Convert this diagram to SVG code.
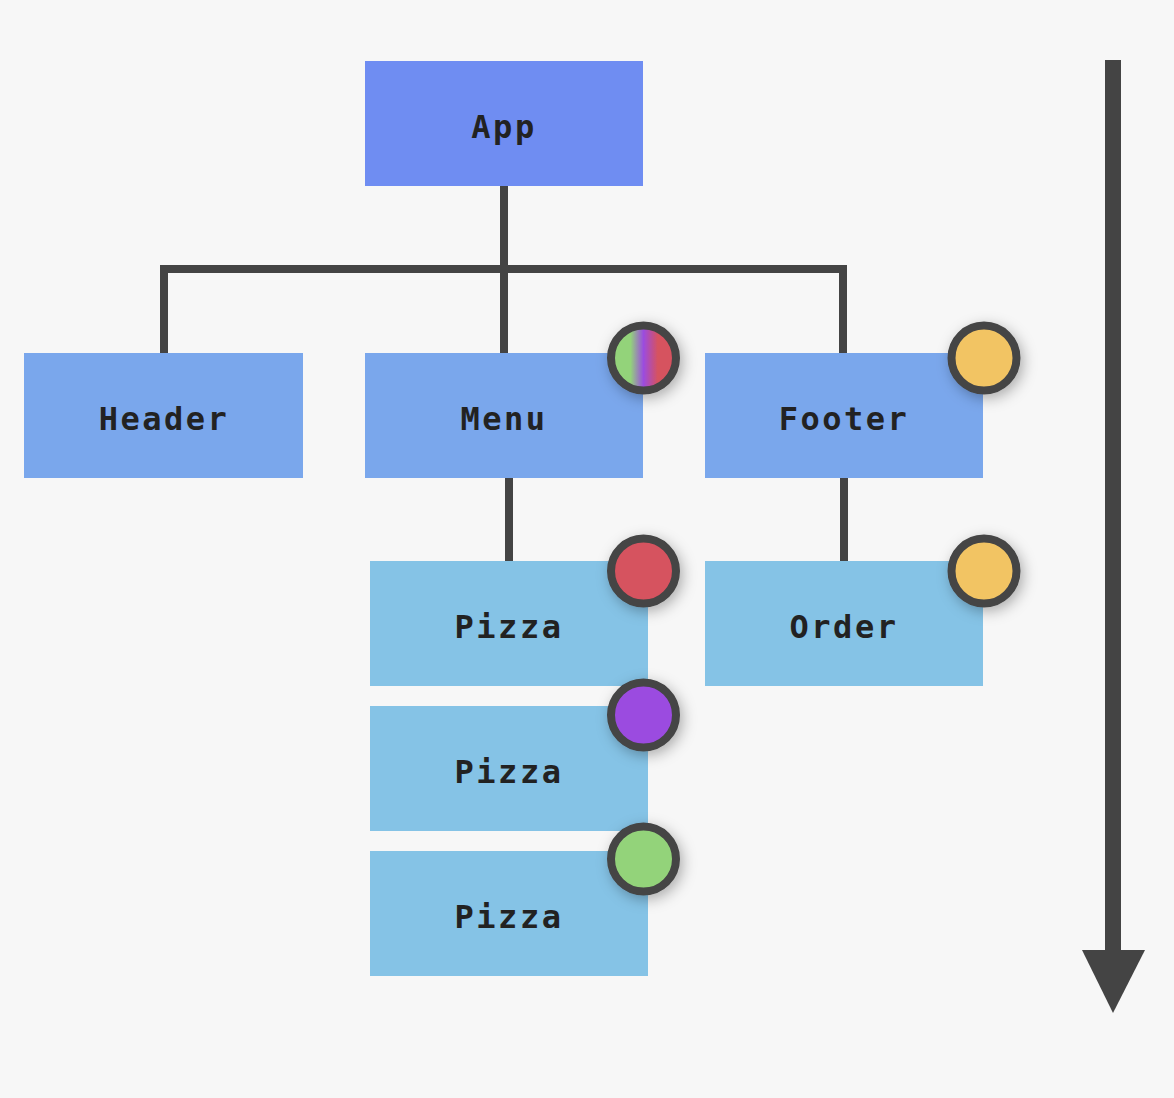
<svg xmlns="http://www.w3.org/2000/svg" width="1174" height="1098" viewBox="0 0 1174 1098">
<style>
.box text{font-family:"DejaVu Sans Mono","Liberation Mono",monospace;font-weight:bold;font-size:32px;fill:#222;text-anchor:middle;letter-spacing:2.5px}
.l1{fill:#6f8df2}
.l2{fill:#7aa7ec}
.l3{fill:#85c3e6}
.conn{stroke:#444;stroke-width:8;fill:none}
.dot{stroke:#444;stroke-width:8;filter:url(#sh)}
</style>
<defs>
<filter id="sh" x="-60%" y="-60%" width="220%" height="220%">
<feDropShadow dx="3" dy="4" stdDeviation="7" flood-color="#000" flood-opacity="0.3"/>
</filter>
<linearGradient id="mix" x1="0" y1="0" x2="1" y2="0">
<stop offset="0.3" stop-color="#93d37a"/>
<stop offset="0.5" stop-color="#9b4ce0"/>
<stop offset="0.72" stop-color="#d6525f"/>
</linearGradient>
</defs>
<rect width="1174" height="1098" fill="#f7f7f7"/>
<g id="connectors">
<path class="conn" d="M504 186V269M160 269H847M164 269V353M504 269V353M843 269V353"/>
<path class="conn" d="M509 478V561M844 478V561"/>
</g>
<g id="app" class="box"><rect class="l1" x="365" y="61" width="278" height="125"/><text x="504" y="138">App</text></g>
<g id="header" class="box"><rect class="l2" x="24" y="353" width="279" height="125"/><text x="164" y="430">Header</text></g>
<g id="menu" class="box"><rect class="l2" x="365" y="353" width="278" height="125"/><text x="504" y="430">Menu</text></g>
<g id="footer" class="box"><rect class="l2" x="705" y="353" width="278" height="125"/><text x="844" y="430">Footer</text></g>
<g id="pizza1" class="box"><rect class="l3" x="370" y="561" width="278" height="125"/><text x="509" y="638">Pizza</text></g>
<g id="order" class="box"><rect class="l3" x="705" y="561" width="278" height="125"/><text x="844" y="638">Order</text></g>
<g id="pizza2" class="box"><rect class="l3" x="370" y="706" width="278" height="125"/><text x="509" y="783">Pizza</text></g>
<g id="pizza3" class="box"><rect class="l3" x="370" y="851" width="278" height="125"/><text x="509" y="928">Pizza</text></g>
<g id="dots">
<circle class="dot" cx="643.5" cy="358" r="32.5" fill="url(#mix)"/>
<circle class="dot" cx="984" cy="358" r="32.5" fill="#f2c464"/>
<circle class="dot" cx="643.5" cy="571" r="32.5" fill="#d6525f"/>
<circle class="dot" cx="984" cy="571" r="32.5" fill="#f2c464"/>
<circle class="dot" cx="643.5" cy="715" r="32.5" fill="#9b4ce0"/>
<circle class="dot" cx="643.5" cy="859" r="32.5" fill="#93d37a"/>
</g>
<g id="flow-arrow">
<rect x="1105" y="60" width="16" height="892" fill="#444"/>
<polygon points="1082,950 1145,950 1113,1013" fill="#444"/>
</g>
</svg>
